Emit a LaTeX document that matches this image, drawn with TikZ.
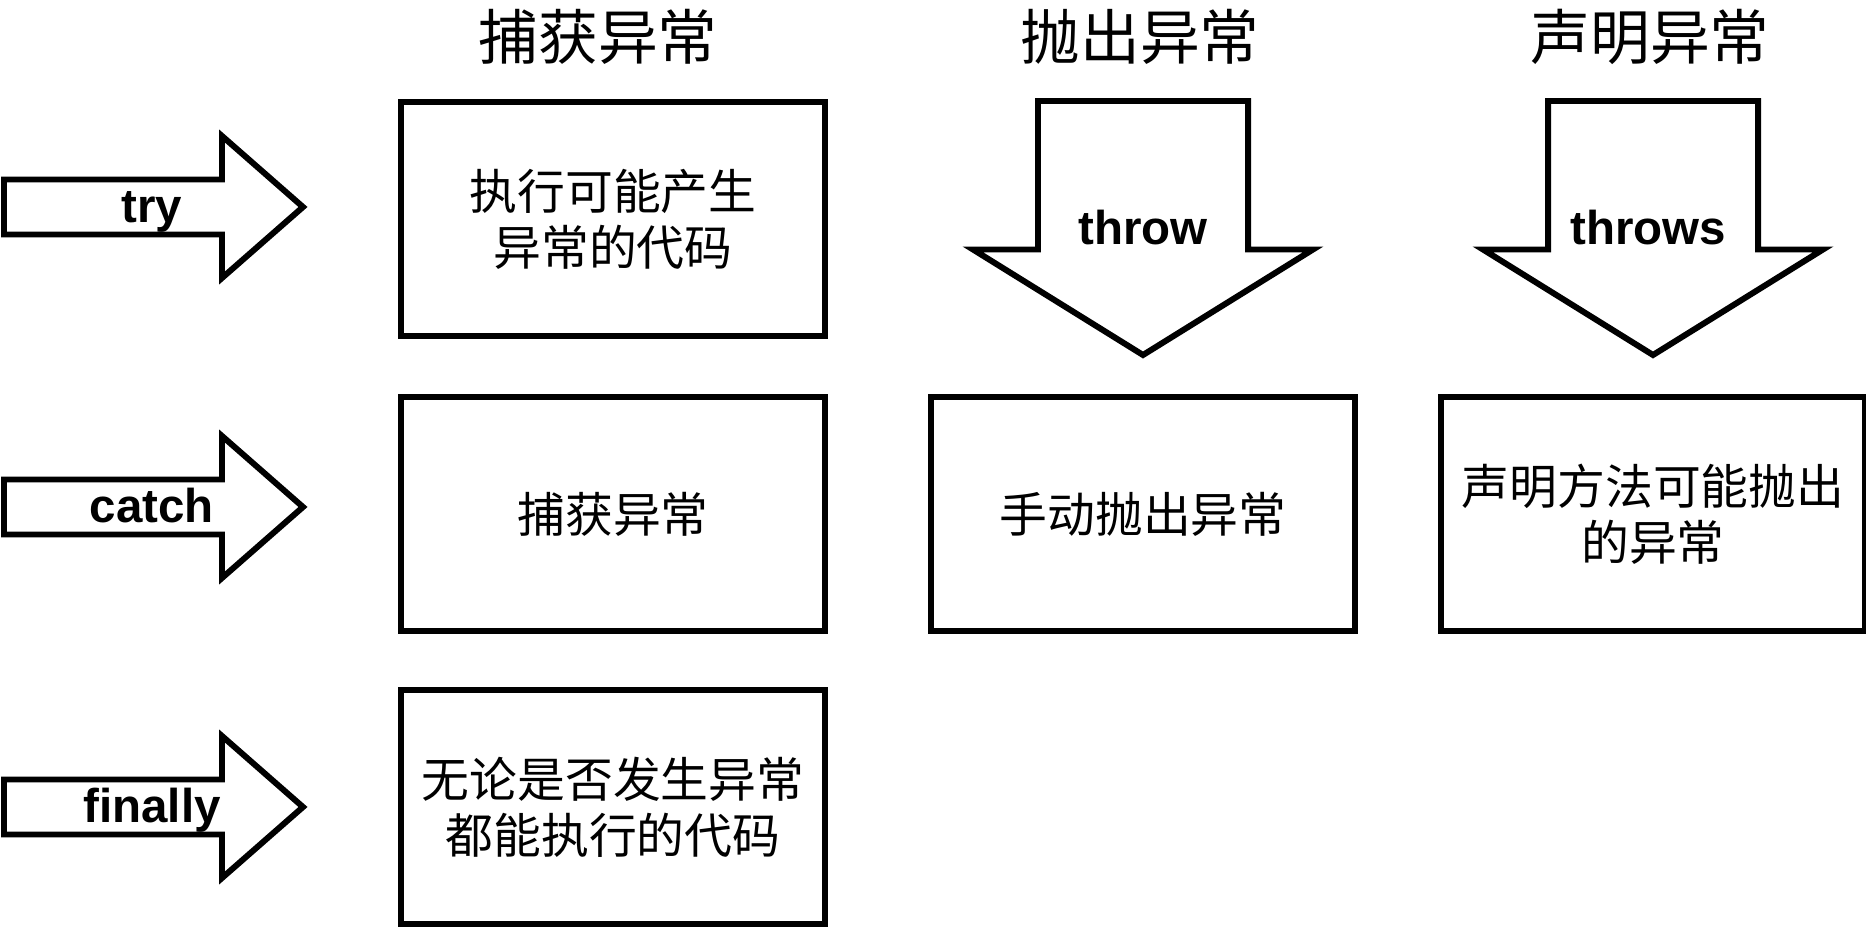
\documentclass[tikz,border=0pt]{standalone}
\usepackage{fontspec}
\setmainfont{Liberation Sans}
\newfontfamily\cjk{Noto Sans CJK SC}
\usepackage{tikz}
\usetikzlibrary{positioning}
\tikzstyle{title}=[font=\cjk\fontsize{17}{20}\selectfont, inner sep=0pt]
\tikzstyle{box}=[rectangle, draw=black, line width=1.7pt, fill=white, minimum width=4.2cm, minimum height=2.34cm, text width=4cm, align=center, font=\cjk\fontsize{13.6}{16}\selectfont]
\tikzstyle{arrowshape}=[draw=black, line width=1.7pt, fill=white, miter limit=10]
\tikzstyle{kw}=[font=\bfseries\fontsize{13.5}{16}\selectfont, anchor=base, inner sep=0pt]

\begin{document}
\begin{tikzpicture}[x=0.01cm, y=-0.01cm]
\useasboundingbox (0,0) rectangle (1866,928);
%Titles
\node[title] (t1) at (598,37){捕获异常};
\node[title] (t2) at (1140,37){抛出异常};
\node[title] (t3) at (1650,37){声明异常};

%Arrows
\draw[arrowshape] (4,179.5) -- (222,179.5) -- (222,136) -- (303,207) -- (222,278) -- (222,234.5) -- (4,234.5) -- cycle;
\draw[arrowshape] (4,479.5) -- (222,479.5) -- (222,436) -- (303,507) -- (222,578) -- (222,534.5) -- (4,534.5) -- cycle;
\draw[arrowshape] (4,779.5) -- (222,779.5) -- (222,736) -- (303,807) -- (222,878) -- (222,834.5) -- (4,834.5) -- cycle;
\draw[arrowshape] (1038,101) -- (1248,101) -- (1248,249.5) -- (1313,249.5) -- (1143,355) -- (973,249.5) -- (1038,249.5) -- cycle;
\draw[arrowshape] (1548,101) -- (1758,101) -- (1758,249.5) -- (1823,249.5) -- (1653,355) -- (1483,249.5) -- (1548,249.5) -- cycle;
\node[kw] (ar1) at (152,223){try};
\node[kw] (ar2) at (152,523){catch};
\node[kw] (ar3) at (152,823){finally};
\node[kw] (ar4) at (1143,245){throw};
\node[kw] (ar5) at (1648,245){throws};

%Boxes
\node[box] (bx1) at (613,219){执行可能产生\\异常的代码};
\node[box] (bx2) at (613,514){捕获异常};
\node[box] (bx3) at (613,807){无论是否发生异常\\都能执行的代码};
\node[box] (bx4) at (1143,514){手动抛出异常};
\node[box] (bx5) at (1653,514){声明方法可能抛出\\的异常};
\end{tikzpicture}
\end{document}
